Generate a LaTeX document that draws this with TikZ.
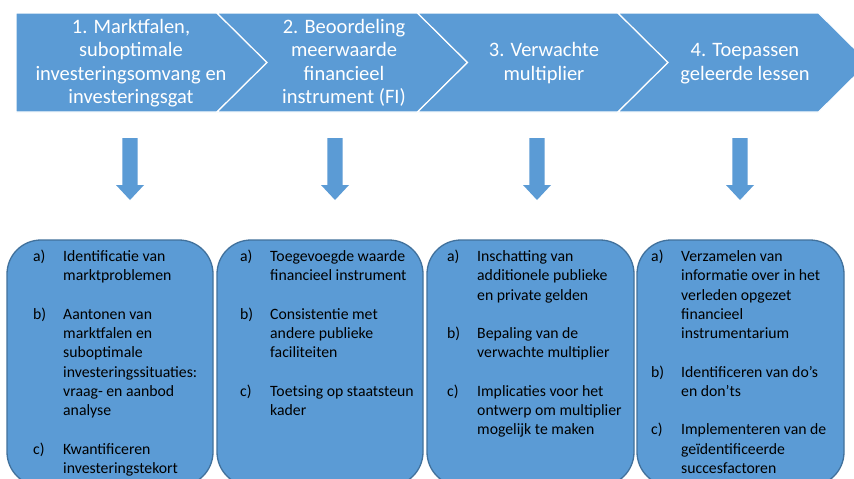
\documentclass[tikz,border=0pt]{standalone}
\usepackage{fontspec}
\setmainfont{Carlito}
\definecolor{obl}{HTML}{5B9BD5}
\definecolor{obd}{HTML}{41719C}
\begin{document}
\begin{tikzpicture}[x=1pt,y=-1pt,
  chev/.style={fill=obl,draw=white,line width=1.2pt,line join=miter},
  ctext/.style={text=white,inner sep=0pt,anchor=base,font=\fontsize{20.5}{23.5}\selectfont},
  blk/.style={fill=obl,draw=obd,line width=1.3pt,rounded corners=34pt},
  btext/.style={inner sep=0pt,anchor=base west,text=black,font=\fontsize{15.75}{19.25}\selectfont},
  darrow/.style={fill=obl}]
\useasboundingbox (0,0) rectangle (854,479);
\clip (0,0) rectangle (854,479);
\fill[white] (0,0) rectangle (854,479);
% chevrons
\draw[chev] (16,13) -- (217,13) -- (267,62.5) -- (217,112) -- (16,112) -- cycle;
\foreach \x in {217,417.5,618}{
  \draw[chev] (\x,13) -- (\x+200.5,13) -- (\x+250.5,62.5) -- (\x+200.5,112) -- (\x,112) -- (\x+50,62.5) -- cycle;
}
\node[ctext] (c1) at (131,33.3) {\begin{tabular}[t]{@{}c@{}}1. Marktfalen,\\suboptimale\\investeringsomvang en\\investeringsgat\end{tabular}};
\node[ctext] (c2) at (344,33.3) {\begin{tabular}[t]{@{}c@{}}2. Beoordeling\\meerwaarde\\financieel\\instrument (FI)\end{tabular}};
\node[ctext] (c3) at (544,56.8) {\begin{tabular}[t]{@{}c@{}}3. Verwachte\\multiplier\end{tabular}};
\node[ctext] (c4) at (745,56.8) {\begin{tabular}[t]{@{}c@{}}4. Toepassen\\geleerde lessen\end{tabular}};
% down arrows
\foreach \cx in {130,335,537,740}{
  \fill[darrow] (\cx-7.7,138) -- (\cx+7.7,138) -- (\cx+7.7,185) -- (\cx+14,185) -- (\cx,200) -- (\cx-14,185) -- (\cx-7.7,185) -- cycle;
}
% boxes
\draw[blk] (7,240) rectangle (213,486);
\draw[blk] (217,240) rectangle (423,486);
\draw[blk] (427,240) rectangle (634,486);
\draw[blk] (637,240) rectangle (844,486);
\node[btext] (t1) at (33,261.5) {\begin{tabular}[t]{@{}p{30pt}@{}l@{}}
a) & Identificatie van\\
   & marktproblemen\\
   & \\
b) & Aantonen van\\
   & marktfalen en\\
   & suboptimale\\
   & investeringssituaties:\\
   & vraag- en aanbod\\
   & analyse\\
   & \\
c) & Kwantificeren\\
   & investeringstekort
\end{tabular}};
\node[btext] (t2) at (240,261.5) {\begin{tabular}[t]{@{}p{30pt}@{}l@{}}
a) & Toegevoegde waarde\\
   & financieel instrument\\
   & \\
b) & Consistentie met\\
   & andere publieke\\
   & faciliteiten\\
   & \\
c) & Toetsing op staatsteun\\
   & kader
\end{tabular}};
\node[btext] (t3) at (447,261.5) {\begin{tabular}[t]{@{}p{30pt}@{}l@{}}
a) & Inschatting van\\
   & additionele publieke\\
   & en private gelden\\
   & \\
b) & Bepaling van de\\
   & verwachte multiplier\\
   & \\
c) & Implicaties voor het\\
   & ontwerp om multiplier\\
   & mogelijk te maken
\end{tabular}};
\node[btext] (t4) at (651,261.5) {\begin{tabular}[t]{@{}p{30pt}@{}l@{}}
a) & Verzamelen van\\
   & informatie over in het\\
   & verleden opgezet\\
   & financieel\\
   & instrumentarium\\
   & \\
b) & Identificeren van do’s\\
   & en don’ts\\
   & \\
c) & Implementeren van de\\
   & geïdentificeerde\\
   & succesfactoren
\end{tabular}};
\end{tikzpicture}
\end{document}
